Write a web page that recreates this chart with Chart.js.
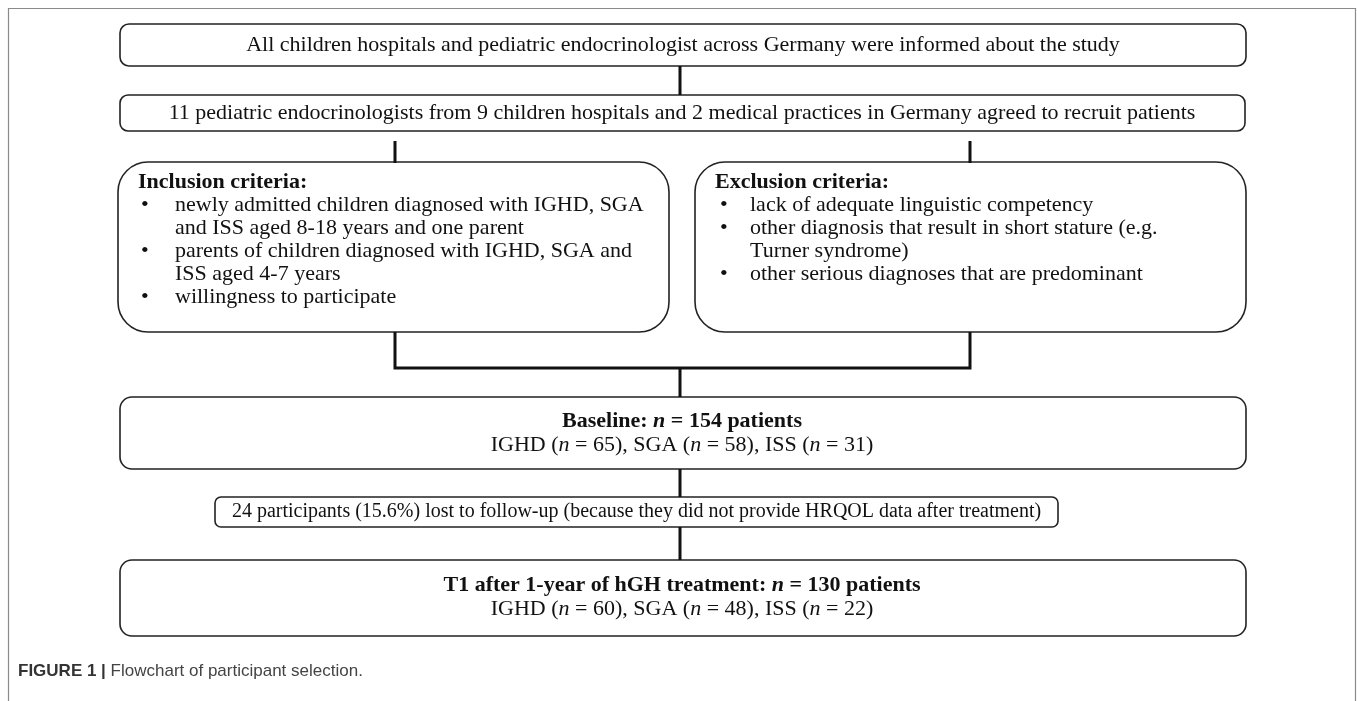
<!DOCTYPE html>
<html>
<head>
<meta charset="utf-8">
<script src="https://cdn.jsdelivr.net/npm/chart.js@4.4.0/dist/chart.umd.min.js"></script>
<style>
  html, body { margin: 0; padding: 0; background: #fff; }
  #wrap { width: 1357px; height: 701px; }
</style>
</head>
<body>
<div id="wrap"><canvas id="flow" width="1357" height="701"></canvas></div>
<script>
// --- flowchart content ---
const informedText = "All children hospitals and pediatric endocrinologist across Germany were informed about the study";
const recruitText = "11 pediatric endocrinologists from 9 children hospitals and 2 medical practices in Germany agreed to recruit patients";
const inclusionItems = [
    ["newly admitted children diagnosed with IGHD, SGA", "and ISS aged 8-18 years and one parent"],
    ["parents of children diagnosed with IGHD, SGA and", "ISS aged 4-7 years"],
    ["willingness to participate"]
];
const exclusionItems = [
    ["lack of adequate linguistic competency"],
    ["other diagnosis that result in short stature (e.g.", "Turner syndrome)"],
    ["other serious diagnoses that are predominant"]
];
const groups = ["IGHD", "SGA", "ISS"];
const baselineTotal = 154;
const baselineCounts = [65, 58, 31];
const lostCount = 24;
const lostPercent = 15.6;
const t1Total = 130;
const t1Counts = [60, 48, 22];

const SERIF = "'Liberation Serif', 'Times New Roman', serif";
const SANS = "'Liberation Sans', Arial, sans-serif";
const FS = 22;
const LINE = 23;

// --- layout (pixel units on the hidden scales) ---
const boxes = [
    { x0: 120, y0: 24, x1: 1246, y1: 66, r: 9 },
    { x0: 120, y0: 95, x1: 1245, y1: 131, r: 8 },
    { x0: 118, y0: 162, x1: 669, y1: 332, r: 30 },
    { x0: 695, y0: 162, x1: 1246, y1: 332, r: 30 },
    { x0: 120, y0: 397, x1: 1246, y1: 469, r: 12 },
    { x0: 215, y0: 497, x1: 1058, y1: 527, r: 6 },
    { x0: 120, y0: 560, x1: 1246, y1: 636, r: 12 }
];
const connectors = [
    [[680, 66], [680, 95]],
    [[395, 141], [395, 163]],
    [[970, 141], [970, 163]],
    [[395, 332], [395, 368], [970, 368], [970, 332]],
    [[680, 367], [680, 397]],
    [[680, 469], [680, 497]],
    [[680, 527], [680, 560]]
];

function countLine(counts) {
    const segs = [];
    groups.forEach((g, i) => {
        segs.push([g + " (", ""], ["n", "i"], [" = " + counts[i] + ")", ""]);
        if (i < groups.length - 1) segs.push([", ", ""]);
    });
    return segs;
}

function fontFor(style, size, family) {
    const it = style.includes("i") ? "italic " : "";
    const b = style.includes("b") ? "bold " : "";
    return `${it}${b}${size}px ${family}`;
}

function drawRich(ctx, segs, x, y, align, size, family) {
    let total = 0;
    segs.forEach((s) => {
        ctx.font = fontFor(s[1], size, family);
        total += ctx.measureText(s[0]).width;
    });
    let cx = align === "center" ? x - total / 2 : x;
    ctx.textAlign = "left";
    ctx.textBaseline = "middle";
    segs.forEach((s) => {
        ctx.font = fontFor(s[1], size, family);
        ctx.fillText(s[0], cx, y);
        cx += ctx.measureText(s[0]).width;
    });
    return total;
}

function roundRect(ctx, x0, y0, x1, y1, r) {
    ctx.beginPath();
    ctx.moveTo(x0 + r, y0);
    ctx.lineTo(x1 - r, y0);
    ctx.arcTo(x1, y0, x1, y0 + r, r);
    ctx.lineTo(x1, y1 - r);
    ctx.arcTo(x1, y1, x1 - r, y1, r);
    ctx.lineTo(x0 + r, y1);
    ctx.arcTo(x0, y1, x0, y1 - r, r);
    ctx.lineTo(x0, y0 + r);
    ctx.arcTo(x0, y0, x0 + r, y0, r);
    ctx.closePath();
}

function drawCriteria(ctx, xs, ys, title, items, headX, bulletX, textX) {
    ctx.fillStyle = "#111";
    drawRich(ctx, [[title, "b"]], xs(headX), ys(182), "left", FS, SERIF);
    let y = 182 + LINE;
    items.forEach((item) => {
        drawRich(ctx, [["\u2022", ""]], xs(bulletX), ys(y), "left", FS, SERIF);
        item.forEach((line) => {
            drawRich(ctx, [[line, ""]], xs(textX), ys(y), "left", FS, SERIF);
            y += LINE;
        });
    });
}

const flowPlugin = {
    id: "flow",
    beforeDatasetsDraw(chart) {
        const ctx = chart.ctx;
        const xs = (v) => chart.scales.x.getPixelForValue(v);
        const ys = (v) => chart.scales.y.getPixelForValue(v);
        ctx.save();
        // outer figure frame
        ctx.strokeStyle = "#8a8a8a";
        ctx.lineWidth = 1.2;
        ctx.beginPath();
        ctx.moveTo(xs(8.5), ys(701));
        ctx.lineTo(xs(8.5), ys(8.5));
        ctx.lineTo(xs(1355.5), ys(8.5));
        ctx.lineTo(xs(1355.5), ys(701));
        ctx.stroke();

        boxes.forEach((b) => {
            roundRect(ctx, xs(b.x0), ys(b.y0), xs(b.x1), ys(b.y1), b.r);
            ctx.fillStyle = "#fff";
            ctx.fill();
            ctx.strokeStyle = "#222";
            ctx.lineWidth = 1.6;
            ctx.stroke();
        });

        ctx.fillStyle = "#111";
        drawRich(ctx, [[informedText, ""]], xs(683), ys(45.5), "center", FS, SERIF);
        drawRich(ctx, [[recruitText, ""]], xs(682), ys(113.5), "center", FS, SERIF);

        drawCriteria(ctx, xs, ys, "Inclusion criteria:", inclusionItems, 138, 141, 175);
        drawCriteria(ctx, xs, ys, "Exclusion criteria:", exclusionItems, 715, 720, 750);

        ctx.fillStyle = "#111";
        drawRich(ctx, [["Baseline: ", "b"], ["n", "bi"], [" = " + baselineTotal + " patients", "b"]],
            xs(682), ys(421), "center", FS, SERIF);
        drawRich(ctx, countLine(baselineCounts), xs(682), ys(445), "center", FS, SERIF);

        const lostText = `${lostCount} participants (${lostPercent}%) lost to follow-up (because they did not provide HRQOL data after treatment)`;
        drawRich(ctx, [[lostText, ""]], xs(636.5), ys(512), "center", 20, SERIF);

        drawRich(ctx, [["T1 after 1-year of hGH treatment: ", "b"], ["n", "bi"], [" = " + t1Total + " patients", "b"]],
            xs(682), ys(585), "center", FS, SERIF);
        drawRich(ctx, countLine(t1Counts), xs(682), ys(609), "center", FS, SERIF);

        // caption
        ctx.fillStyle = "#333";
        const capW = drawRich(ctx, [["FIGURE 1", "b"], [" | ", "b"]], xs(18), ys(671), "left", 17, SANS);
        ctx.fillStyle = "#444";
        drawRich(ctx, [["Flowchart of participant selection.", ""]], xs(18) + capW, ys(671), "left", 17, SANS);
        ctx.restore();
    }
};

const datasets = connectors.map((pts) => ({
    type: "line",
    data: pts.map((p) => ({ x: p[0], y: p[1] })),
    borderColor: "#111",
    borderWidth: 3,
    borderCapStyle: "butt",
    borderJoinStyle: "miter",
    pointRadius: 0,
    fill: false,
    tension: 0
}));

new Chart(document.getElementById("flow").getContext("2d"), {
    type: "scatter",
    data: { datasets: datasets },
    options: {
        responsive: false,
        animation: false,
        events: [],
        layout: { padding: 0 },
        scales: {
            x: { type: "linear", min: 0, max: 1357, display: false },
            y: { type: "linear", min: 0, max: 701, reverse: true, display: false }
        },
        plugins: { legend: { display: false }, tooltip: { enabled: false } }
    },
    plugins: [flowPlugin]
});
</script>
</body>
</html>
